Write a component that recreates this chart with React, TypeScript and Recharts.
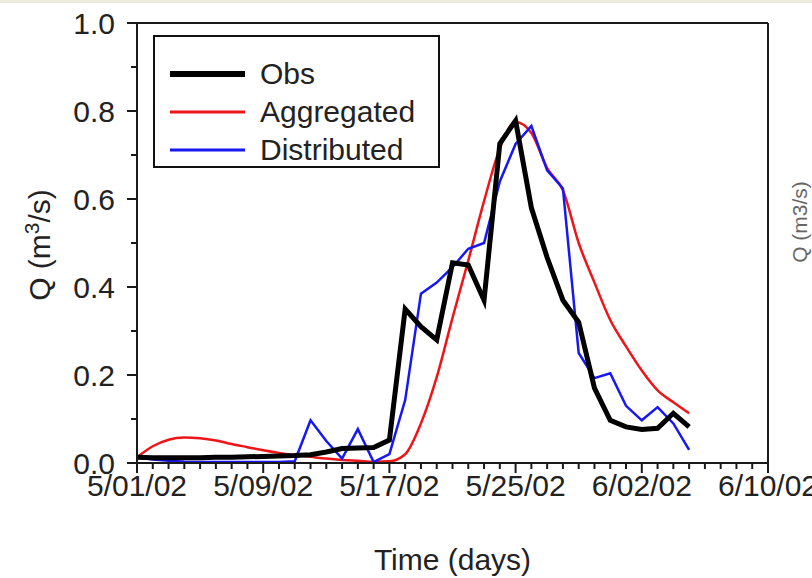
import { CartesianGrid, Legend, Line, LineChart, ReferenceLine, XAxis, YAxis } from 'recharts';

// #region data (daily values from 5/01/02, m3/s)
const obs = [
    0.013, 0.012, 0.012, 0.012, 0.012, 0.013, 0.013, 0.014, 0.015, 0.016,
    0.017, 0.019, 0.025, 0.033, 0.034, 0.035, 0.052, 0.35, 0.31, 0.28,
    0.455, 0.45, 0.37, 0.726, 0.778, 0.58, 0.467, 0.37, 0.32, 0.17,
    0.097, 0.082, 0.076, 0.079, 0.113, 0.082,
];
const aggregated = [
    0.013, 0.038, 0.053, 0.058, 0.056, 0.051, 0.043, 0.036, 0.029, 0.023,
    0.018, 0.014, 0.01, 0.007, 0.005, 0.003, 0.004, 0.02, 0.09, 0.195,
    0.33, 0.46, 0.595, 0.715, 0.775, 0.75, 0.67, 0.62, 0.5, 0.41,
    0.325, 0.265, 0.21, 0.165, 0.138, 0.113,
];
const distributed = [
    0.013, 0.008, 0.005, 0.003, 0.002, 0.002, 0.002, 0.002, 0.002, 0.002,
    0.004, 0.097, 0.05, 0.01, 0.077, 0.002, 0.02, 0.143, 0.385, 0.41,
    0.445, 0.487, 0.5, 0.64, 0.725, 0.766, 0.665, 0.624, 0.25, 0.193,
    0.204, 0.13, 0.097, 0.127, 0.09, 0.03,
];

const majorDays = [0, 8, 16, 24, 32, 40];
const dateLabels = ['5/01/02', '5/09/02', '5/17/02', '5/25/02', '6/02/02', '6/10/02'];
const yTicks = [0, 0.1, 0.2, 0.3, 0.4, 0.5, 0.6, 0.7, 0.8, 0.9, 1.0];

const seriesNames = ['Obs', 'Aggregated', 'Distributed'];
const seriesColors = ['#000000', '#ee1519', '#1717f4'];
const seriesWidths = [5, 2.5, 2.5];
// #endregion

const data = obs.map((v, i) => ({
    day: i,
    Obs: v,
    Aggregated: aggregated[i],
    Distributed: distributed[i],
}));
const dayTicks = Array.from({ length: 41 }, (_, i) => i);

const FONT = '"Liberation Sans", Arial, sans-serif';
const AXIS = '#1a1a1a';
const FS = 30;

const XTick = ({ x, y, payload }: any) => {
    const k = majorDays.indexOf(payload.value);
    return (
        <g>
            <line x1={x} y1={y} x2={x} y2={y + (k >= 0 ? 10 : 6)} stroke={AXIS} strokeWidth={2} />
            {k >= 0 && (
                <text x={x} y={y + 12} dy="0.71em" textAnchor="middle" fontSize={FS} fill="#222" fontFamily={FONT}>
                    {dateLabels[k]}
                </text>
            )}
        </g>
    );
};

const YTick = ({ x, y, payload }: any) => {
    const major = Math.round(payload.value * 10) % 2 === 0;
    return (
        <g>
            <line x1={x} y1={y} x2={x - (major ? 10 : 6)} y2={y} stroke={AXIS} strokeWidth={2} />
            {major && (
                <text x={x - 22} y={y} dy="0.355em" textAnchor="end" fontSize={FS} fill="#222" fontFamily={FONT}>
                    {payload.value.toFixed(1)}
                </text>
            )}
        </g>
    );
};

const YLabel = () => (
    <text transform="translate(50,245) rotate(-90)" textAnchor="middle" fontSize={FS} fill="#222" fontFamily={FONT}>
        <tspan>Q (m</tspan>
        <tspan dy={-11} fontSize={21}>3</tspan>
        <tspan dy={11}>/s)</tspan>
    </text>
);

const LegendBox = () => (
    <div style={{ width: 287, height: 133, border: '2px solid #111', boxSizing: 'border-box', background: '#fff', position: 'relative', fontFamily: FONT }}>
        {seriesNames.map((name, i) => (
            <div key={name} style={{ position: 'absolute', left: 0, top: 37 + i * 38 - 20, height: 40, display: 'flex', alignItems: 'center' }}>
                <svg width={95} height={40}>
                    <line x1={15} x2={90} y1={20} y2={20} stroke={seriesColors[i]} strokeWidth={i === 0 ? 6 : 3} />
                </svg>
                <span style={{ marginLeft: 10, fontSize: FS, color: '#222', lineHeight: '40px' }}>{name}</span>
            </div>
        ))}
    </div>
);

export default function App() {
    return (
        <div style={{ position: 'absolute', left: 0, top: 0, width: 812, height: 578, background: '#fff' }}>
            <div style={{ position: 'absolute', left: 0, top: 0, width: 812, height: 3, background: '#ecebdd' }} />
            <LineChart width={812} height={578} data={data} margin={{ top: 23, right: 44, bottom: 0, left: 0 }}>
                <CartesianGrid stroke="none" />
                <XAxis
                    dataKey="day"
                    type="number"
                    domain={[0, 40]}
                    ticks={dayTicks}
                    interval={0}
                    height={115}
                    tickSize={0}
                    tickMargin={0}
                    tickLine={false}
                    tick={<XTick />}
                    axisLine={{ stroke: AXIS, strokeWidth: 2 }}
                    label={{ value: 'Time (days)', position: 'insideBottom', offset: 8, fontSize: FS, fill: '#222', fontFamily: FONT }}
                />
                <YAxis
                    type="number"
                    domain={[0, 1]}
                    ticks={yTicks}
                    interval={0}
                    width={137}
                    tickSize={0}
                    tickMargin={0}
                    tickLine={false}
                    tick={<YTick />}
                    axisLine={{ stroke: AXIS, strokeWidth: 2 }}
                    label={<YLabel />}
                />
                <ReferenceLine y={1} stroke={AXIS} strokeWidth={2} />
                <ReferenceLine x={40} stroke={AXIS} strokeWidth={2} />
                <Legend layout="vertical" align="center" verticalAlign="middle" content={<LegendBox />}
                    wrapperStyle={{ left: 153, top: 35, width: 287, height: 133 }} />
                <Line type="monotone" dataKey="Aggregated" stroke={seriesColors[1]} strokeWidth={seriesWidths[1]} dot={false} isAnimationActive={false} />
                <Line type="linear" dataKey="Distributed" stroke={seriesColors[2]} strokeWidth={seriesWidths[2]} dot={false} isAnimationActive={false} />
                <Line type="linear" dataKey="Obs" stroke={seriesColors[0]} strokeWidth={seriesWidths[0]} dot={false} isAnimationActive={false} strokeLinejoin="miter" />
                <text transform="translate(807,222) rotate(-90)" textAnchor="middle" fontSize={21} fill="#666" fontFamily={FONT}>
                    Q (m3/s)
                </text>
            </LineChart>
        </div>
    );
}
